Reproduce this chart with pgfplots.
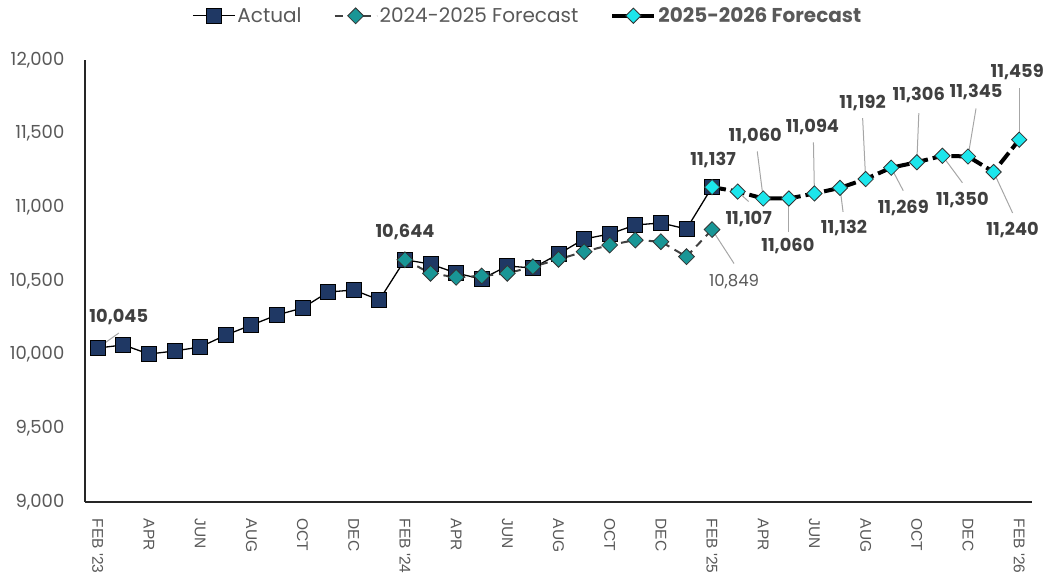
\documentclass[border=0pt]{standalone}
\usepackage{fontspec}
\setmainfont{Poppins}
\newfontfamily\arialf{Liberation Sans}
\usepackage{pgfplots}
\usepackage{pgfplotstable}
\pgfplotsset{compat=1.18}
\definecolor{navy}{HTML}{1F3864}
\definecolor{tealm}{HTML}{199696}
\definecolor{cyanm}{HTML}{1CE6EC}
\definecolor{txt}{HTML}{595959}
\definecolor{labc}{HTML}{404040}
\definecolor{lead}{HTML}{A6A6A6}

\pgfplotstableread{
x y
0 10045
1 10066
2 10004
3 10025
4 10052
5 10133
6 10201
7 10269
8 10317
9 10425
10 10439
11 10371
12 10644
13 10615
14 10554
15 10513
16 10602
17 10588
18 10683
19 10785
20 10819
21 10880
22 10894
23 10853
24 11137
}\actual

\pgfplotstableread{
x y
12 10644
13 10552
14 10525
15 10534
16 10552
17 10597
18 10647
19 10699
20 10744
21 10778
22 10767
23 10665
24 10849
}\fcA

\pgfplotstableread{
x y
24 11137
25 11107
26 11060
27 11060
28 11094
29 11132
30 11192
31 11269
32 11306
33 11350
34 11345
35 11240
36 11459
}\fcB

\newcommand\lblfont{\fontsize{17.8}{18}\selectfont\bfseries}
\newcommand\dl[7]{%
  \draw[lead, line width=1pt] (axis cs:#1,#2) -- ++(#6pt,#7pt);
  \node[font=\lblfont, text=labc, inner sep=0pt] at (axis cs:#1,#2) [xshift=#4pt, yshift=#5pt] {#3};%
}

\begin{document}
\begin{tikzpicture}
\begin{axis}[
  at={(0,0)}, anchor=south west,
  scale only axis, width=947pt, height=442pt,
  xmin=-0.5, xmax=36.5, ymin=9000, ymax=12000,
  clip=false,
  axis x line=bottom, axis y line=left,
  axis line style={-, line width=1.3pt, draw=black!85},
  tick style={draw=none},
  ytick={9000,9500,...,12000},
  scaled y ticks=false,
  /pgf/number format/1000 sep={,},
  /pgf/number format/assume math mode=true,
  yticklabel style={font=\fontsize{18}{19}\selectfont, text=txt, xshift=-15pt},
  xtick={0,2,...,36},
  xticklabels={FEB '23,APR,JUN,AUG,OCT,DEC,FEB '24,APR,JUN,AUG,OCT,DEC,FEB '25,APR,JUN,AUG,OCT,DEC,FEB '26},
  xticklabel style={rotate=-90, anchor=west, xshift=11pt, font=\arialf\fontsize{15.5}{16}\selectfont, text=txt},
  legend columns=3,
  legend style={at={(0.4675,1.1)}, anchor=center, draw=none, fill=none,
    font=\fontsize{20}{21}\selectfont, text=txt,
    /tikz/every even column/.append style={column sep=30pt}},
  legend image code/.code={\draw[mark repeat=2,mark phase=2,#1] plot coordinates {(0pt,0pt) (21pt,0pt) (42pt,0pt)};},
]
\addplot[black, line width=1.3pt, mark=square*, mark size=7.5pt,
  mark options={fill=navy, draw=black, line width=0.8pt, solid}] table {\actual};
\addlegendentry{Actual}
\addplot[labc, line width=2pt, dash pattern=on 8pt off 6pt, mark=square*, mark size=5.6pt,
  mark options={rotate=45, fill=tealm, draw=black!80, line width=0.8pt, solid}] table {\fcA};
\addlegendentry{2024-2025 Forecast}
\addplot[black, line width=4pt, dash pattern=on 14pt off 5pt, mark=square*, mark size=5.4pt,
  mark options={rotate=45, fill=cyanm, draw=black!80, line width=0.8pt, solid},
  legend image post style={solid}] table {\fcB};
\addlegendentry{\textbf{2025-2026 Forecast}}

\dl{0}{10045}{10,045}{21}{31}{21}{15}
\dl{12}{10644}{10,644}{0}{28}{0}{0}
\draw[lead, line width=1pt] (axis cs:24,10849) -- ++(22pt,-34pt);
\node[font=\fontsize{16.5}{17}\selectfont, text=txt, inner sep=0pt] at (axis cs:24,10849) [xshift=22pt, yshift=-52pt] {10,849};
\dl{24}{11137}{11,137}{1}{27}{0}{0}
\dl{25}{11107}{11,107}{11}{-27}{11}{-10}
\dl{26}{11060}{11,060}{-8}{62}{-6}{47}
\dl{27}{11060}{11,060}{-1}{-48}{0}{-34}
\dl{28}{11094}{11,094}{-2}{66}{-1}{51}
\dl{29}{11132}{11,132}{4}{-40}{3}{-24}
\dl{30}{11192}{11,192}{-3}{76}{-3}{61}
\dl{31}{11269}{11,269}{12}{-40}{12}{-23}
\dl{32}{11306}{11,306}{2}{67}{2}{49}
\dl{33}{11350}{11,350}{20}{-44}{20}{-27}
\dl{34}{11345}{11,345}{8}{64}{8}{48}
\dl{35}{11240}{11,240}{19}{-58}{19}{-41}
\dl{36}{11459}{11,459}{-2}{68}{0}{52}
\end{axis}
\pgfresetboundingbox
\path (-85pt,-75pt) rectangle (959pt,502pt);
\end{tikzpicture}
\end{document}
